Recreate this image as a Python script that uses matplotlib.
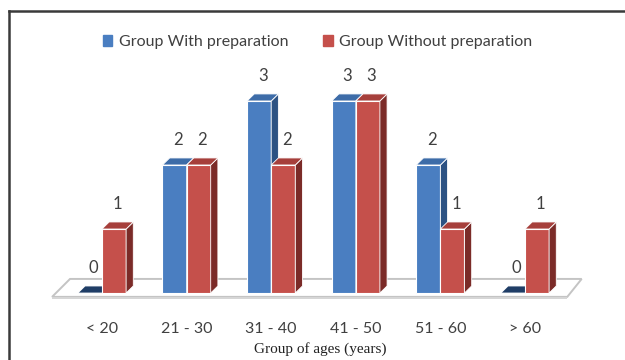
import numpy as np
import matplotlib.pyplot as plt
from matplotlib.patches import Polygon, Patch
from matplotlib.lines import Line2D

age_groups = ['< 20', '21 - 30', '31 - 40', '41 - 50', '51 - 60', '> 60']
with_prep = [0, 2, 3, 3, 2, 0]
without_prep = [1, 2, 2, 3, 1, 1]
series_names = ['Group With preparation', 'Group Without preparation']

blue = dict(front='#4a7ec1', top='#3d6ca8', side='#2c5283', flat='#1f3d66')
red = dict(front='#c5504b', top='#a63f3b', side='#7b2b28', flat='#7b2b28')

w = 0.285            # bar width
dx, dy = 0.085, 0.11  # fake 3d depth offset

plt.rcParams['font.family'] = ['Lato', 'DejaVu Sans']

fig = plt.figure(figsize=(6.25, 3.6), dpi=100)
ax = fig.add_axes([30/625, 60/360, 580/625, 240/360])
ax.set_xlim(-0.851, 6.005)
ax.set_ylim(-0.109, 3.64)
for s in ax.spines.values():
    s.set_visible(False)
ax.set_yticks([])

# floor slab
floor = Polygon([(-0.59, -0.06), (5.50, -0.06), (5.67, 0.22), (-0.378, 0.22)],
                closed=True, facecolor='white', edgecolor='#c4c4c4', lw=1.4, zorder=1)
ax.add_patch(floor)
ax.add_patch(Polygon([(-0.59, -0.06), (5.50, -0.06), (5.50, -0.09), (-0.59, -0.09)],
                     facecolor='#d6d6d6', edgecolor='none', zorder=1))

x = np.arange(len(age_groups))


def draw_bars(lefts, vals, c):
    ax.bar(lefts, vals, width=w, align='edge', color=c['front'],
           edgecolor='white', lw=0.8, zorder=3)
    for l, h in zip(lefts, vals):
        if h == 0:
            ax.add_patch(Polygon([(l, 0), (l + w, 0), (l + w + dx, dy), (l + dx, dy)],
                                 facecolor=c['flat'], edgecolor='white', lw=0.6, zorder=3))
        else:
            ax.add_patch(Polygon([(l + w, 0), (l + w + dx, dy), (l + w + dx, h + dy), (l + w, h)],
                                 facecolor=c['side'], edgecolor='white', lw=0.6, zorder=3))
            ax.add_patch(Polygon([(l, h), (l + w, h), (l + w + dx, h + dy), (l + dx, h + dy)],
                                 facecolor=c['top'], edgecolor='white', lw=0.6, zorder=3))
        ax.text(l + w / 2 + dx / 2, h + dy + 0.15, str(h), ha='center', va='bottom',
                fontsize=12, color='#404040', zorder=4)


draw_bars(x - w, with_prep, blue)
draw_bars(x, without_prep, red)

ax.set_xticks(x)
ax.set_xticklabels(age_groups, fontsize=11.5, color='#404040')
ax.tick_params(axis='x', length=0, pad=16)
ax.set_xlabel('Group of ages (years)', family='Liberation Serif', fontsize=11,
              color='#222222', labelpad=4)

handles = [Patch(color=blue['front']), Patch(color=red['front'])]
fig.legend(handles, series_names, loc='center', bbox_to_anchor=(0.508, 0.883), ncol=2,
           frameon=False, fontsize=11.5, handlelength=0.6, handleheight=0.6,
           handletextpad=0.4, columnspacing=2.2, labelcolor='#404040')

# outer frame
fig.add_artist(Line2D([9/625, 9/625], [0, 1 - 11/360], transform=fig.transFigure,
                      color='#3a3a3a', lw=1.8))
fig.add_artist(Line2D([9/625, 1], [1 - 11/360, 1 - 11/360], transform=fig.transFigure,
                      color='#3a3a3a', lw=1.8))

fig.savefig('out.png', dpi=100)
